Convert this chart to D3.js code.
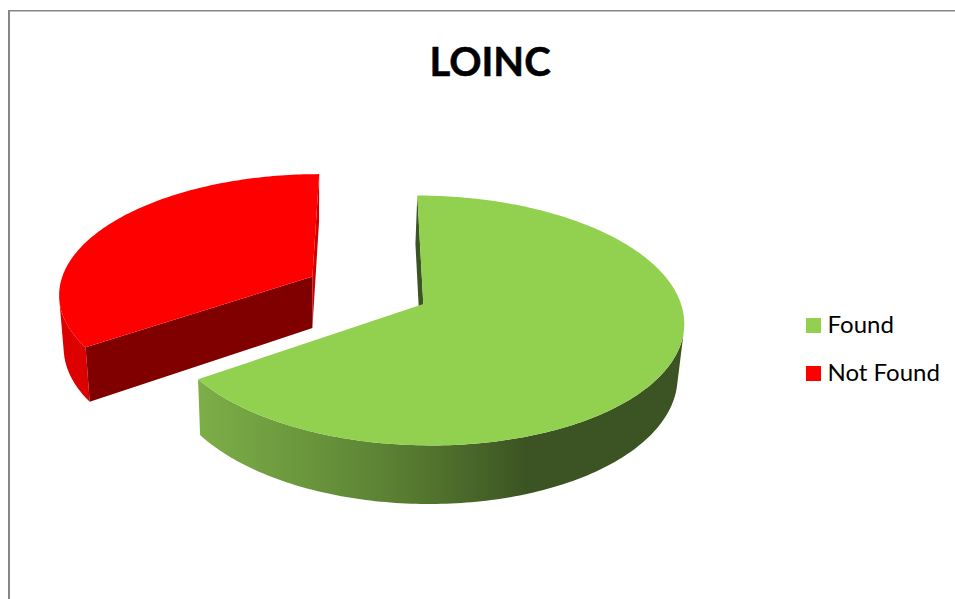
<!DOCTYPE html>
<html>
<head>
<meta charset="utf-8">
<style>
html,body{margin:0;padding:0;background:#fff;overflow:hidden}
svg{display:block}
text{font-family:Lato,"Open Sans",sans-serif;fill:#000}
</style>
<script src="https://cdn.jsdelivr.net/npm/d3@7/dist/d3.min.js"></script>
</head>
<body>
<svg id="c" width="955" height="599"></svg>
<script>
const titleText = "LOINC";
const categories = ["Found", "Not Found"];
const values = [65.4, 34.6];
const explosion = [0, 0.494];
const topColors = ["#92D050", "#FF0000"];

const W = 955, H = 599;
const svg = d3.select("#c");

// Perspective set-up of the pie plane
const R = 257.7, P = 0.132, VX = 372, VY = -626, A = 930, U0 = 51.3;
const DEG = Math.PI / 180;

// plane coordinates (u in px, v in radii) -> top-face screen point
function topPt(u, v) {
  const s = 1 / (1 + P * v);
  return [VX + (U0 + u) * s, VY + A * s];
}
// top-face point -> bottom-face point
function lower([x, y]) {
  return [312 + (x - 312) * 0.982, y + 51.5 + (y - 277) * 0.042];
}

const pie = d3.pie().sort(null).value(d => d).startAngle(0).endAngle(2 * Math.PI);
const arcs = pie(values).map((a, i) => {
  const mid = (a.startAngle + a.endAngle) / 2;
  const e = explosion[i];
  const du = e * R * Math.sin(mid), dv = e * Math.cos(mid);
  const rim = t => topPt(du + R * Math.sin(t), dv + Math.cos(t));
  const apex = topPt(du, dv);
  return {a, i, rim, apex};
});

const line = d3.line();
const poly = pts => line(pts) + "Z";
const sweep = (t0, t1) => {
  const n = Math.max(2, Math.ceil(Math.abs(t1 - t0) / DEG));
  return d3.range(n + 1).map(k => t0 + (t1 - t0) * k / n);
};

// Frame
const frame = svg.append("g").attr("fill", "#868686");
frame.append("rect").attr("x", 8).attr("y", 10).attr("width", W - 8).attr("height", 1.5);
frame.append("rect").attr("x", 8).attr("y", 10).attr("width", 2).attr("height", H - 10);

// Side gradient of the green slice
const defs = svg.append("defs");
const grad = defs.append("linearGradient").attr("id", "greenSide")
  .attr("gradientUnits", "userSpaceOnUse")
  .attr("x1", 198).attr("x2", 525).attr("y1", 0).attr("y2", 0);
[[0, "#7DAE48"], [0.25, "#6F9C3F"], [0.55, "#5D8435"], [0.75, "#4F702C"], [1, "#3C5423"]]
  .forEach(([o, c]) => grad.append("stop").attr("offset", o).attr("stop-color", c));

const g = svg.append("g");

// Red (Not Found) slice, furthest back
(function () {
  const {a, rim, apex} = arcs[1];
  const t0 = a.startAngle, t1 = a.endAngle;
  // cut face at the 12 o'clock edge
  g.append("path").attr("fill", "#CC0000")
    .attr("d", poly([rim(t1), apex, lower(apex), lower(rim(t1))]));
  // outer wall, ending where its silhouette leaves the rim
  const wallEnd = d3.greatest(sweep(t0, t1), t => { const p = rim(t); return -50 * p[0] + 5 * p[1]; });
  const ts = sweep(t0, wallEnd);
  g.append("path").attr("fill", "#DC0000")
    .attr("d", poly(ts.map(rim).concat(ts.slice().reverse().map(t => lower(rim(t))))));
  // cut face in front
  g.append("path").attr("fill", "#800000")
    .attr("d", poly([apex, rim(t0), lower(rim(t0)), lower(apex)]));
  // top
  g.append("path").attr("fill", topColors[1])
    .attr("d", poly([apex].concat(sweep(t0, t1).map(rim))));
})();

// Green (Found) slice
(function () {
  const {a, rim, apex} = arcs[0];
  const t0 = a.startAngle, t1 = a.endAngle;
  // cut face at the 12 o'clock edge
  g.append("path").attr("fill", "#3C5423")
    .attr("d", poly([rim(t0), apex, lower(apex), lower(rim(t0))]));
  // outer wall, starting where its silhouette leaves the rim
  const wallStart = d3.greatest(sweep(t0, t1), t => { const p = rim(t); return 63 * p[0] + 8 * p[1]; });
  const ts = sweep(wallStart, t1);
  g.append("path").attr("fill", "url(#greenSide)")
    .attr("d", poly(ts.map(rim).concat(ts.slice().reverse().map(t => lower(rim(t))))));
  // top
  g.append("path").attr("fill", topColors[0])
    .attr("d", poly([apex].concat(sweep(t0, t1).map(rim))));
})();

// Title
svg.append("text").attr("x", 490).attr("y", 76).attr("text-anchor", "middle")
  .attr("font-size", 40).attr("font-weight", 700)
  .attr("stroke", "#000").attr("stroke-width", 0.5).text(titleText);

// Legend
const legendY = d3.scalePoint().domain(categories).range([325.5, 373.5]);
const colour = d3.scaleOrdinal().domain(categories).range(topColors);
const lg = svg.append("g").selectAll("g").data(categories).join("g")
  .attr("transform", d => `translate(806,${legendY(d)})`);
lg.append("rect").attr("x", 0).attr("y", -7.5).attr("width", 15).attr("height", 15)
  .attr("fill", d => colour(d));
lg.append("text").attr("x", 21.5).attr("y", 7.5).attr("font-size", 24).text(d => d);
</script>
</body>
</html>
